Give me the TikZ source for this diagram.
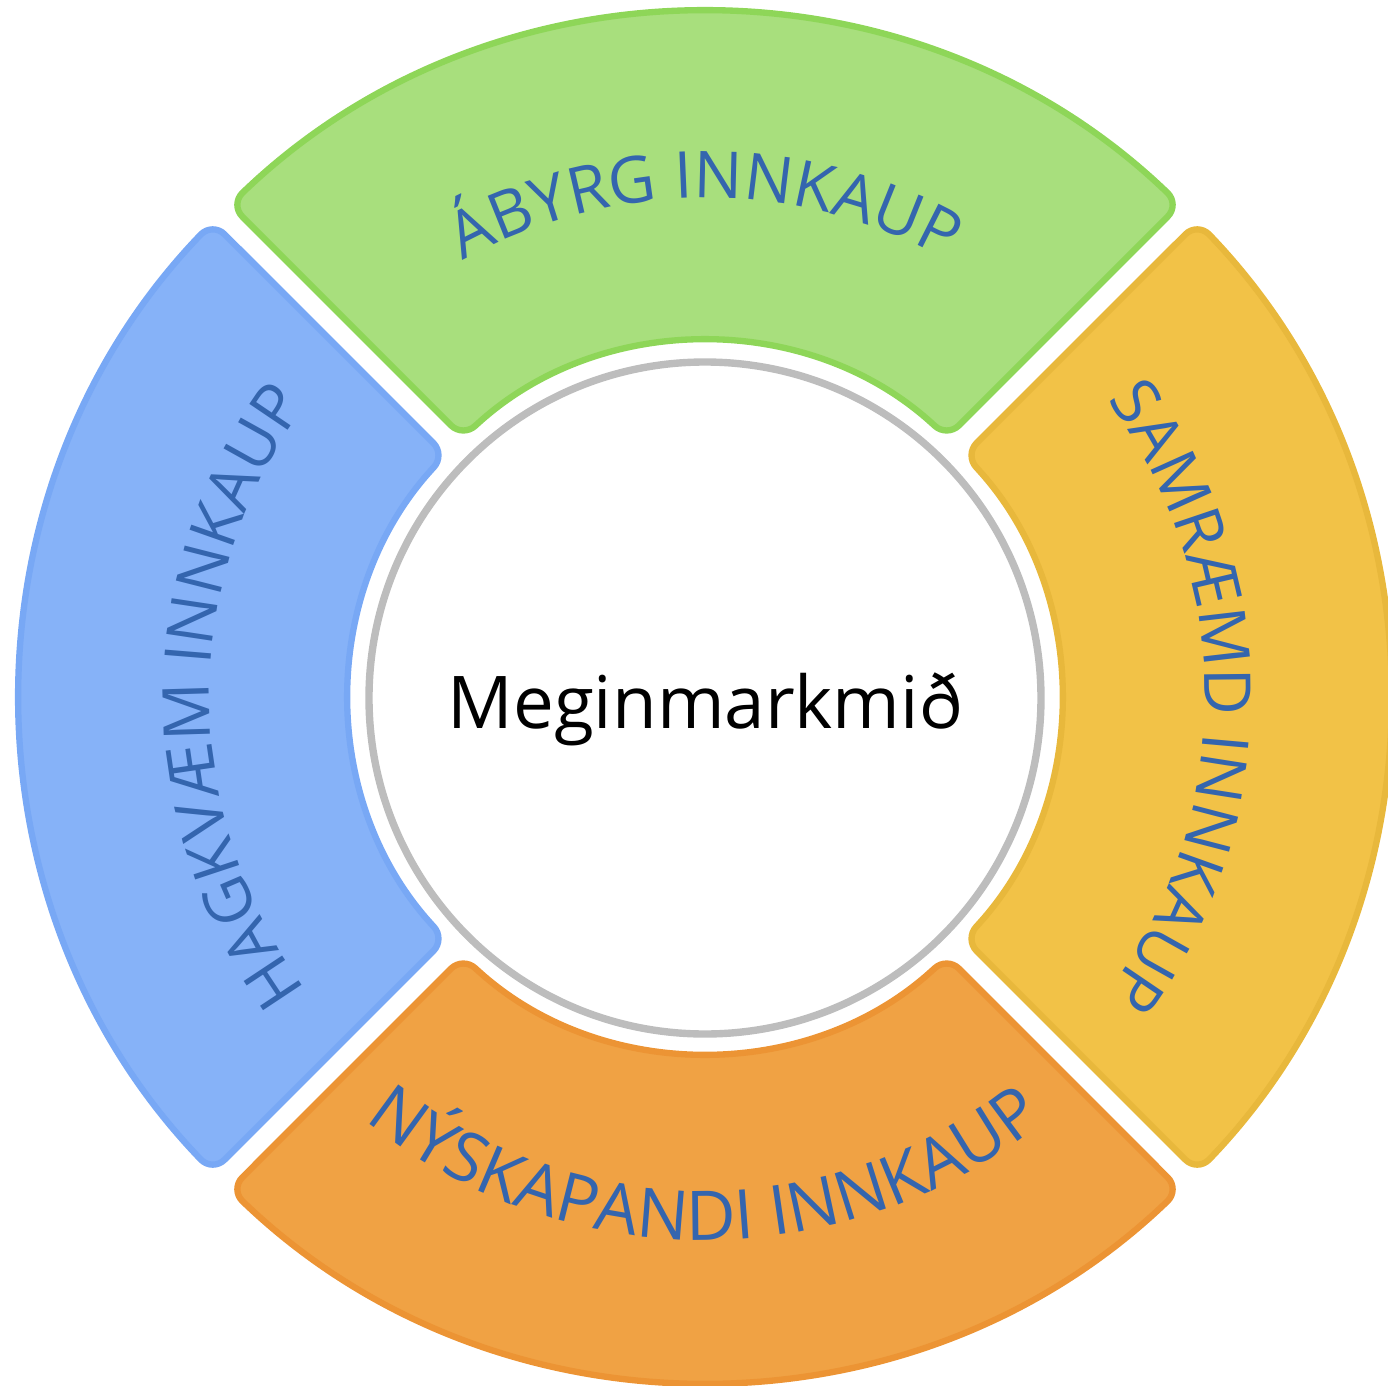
\documentclass[tikz,border=0pt]{standalone}
\usepackage{fontspec}
\setmainfont{Open Sans}
\usetikzlibrary{decorations.text}

\definecolor{greenfill}{HTML}{A8DF7D}
\definecolor{greenline}{HTML}{8ED658}
\definecolor{yellowfill}{HTML}{F2C247}
\definecolor{yellowline}{HTML}{E8B83C}
\definecolor{orangefill}{HTML}{F0A244}
\definecolor{orangeline}{HTML}{EC9434}
\definecolor{bluefill}{HTML}{86B2F8}
\definecolor{blueline}{HTML}{78A8F5}
\definecolor{ringgray}{HTML}{BDBDBD}
\definecolor{labelblue}{HTML}{3465AE}

\newcommand{\arcfont}[1]{\fontsize{#1}{23}\selectfont\color{labelblue}}

\begin{document}
\begin{tikzpicture}[
    part/.style={line width=1.8pt, rounded corners=4.8pt, line join=round},
    arclabel/.style 2 args={decorate, decoration={text along path, text align=center, text={|\arcfont{#1}|#2}}}
  ]
	\useasboundingbox (-7.05,-6.88) rectangle (6.83,6.97);

	% four parts of the ring
	\draw[part, fill=greenfill, draw=greenline] (46.05:6.84) arc[start angle=46.05, end angle=133.95, radius=6.84]
	  -- (132.99:3.55) arc[start angle=132.99, end angle=47.01, radius=3.55] -- cycle;
	\draw[part, fill=yellowfill, draw=yellowline] (-43.95:6.84) arc[start angle=-43.95, end angle=43.95, radius=6.84]
	  -- (42.99:3.55) arc[start angle=42.99, end angle=-42.99, radius=3.55] -- cycle;
	\draw[part, fill=orangefill, draw=orangeline] (226.05:6.84) arc[start angle=226.05, end angle=313.95, radius=6.84]
	  -- (312.99:3.55) arc[start angle=312.99, end angle=227.01, radius=3.55] -- cycle;
	\draw[part, fill=bluefill, draw=blueline] (136.05:6.84) arc[start angle=136.05, end angle=223.95, radius=6.84]
	  -- (222.99:3.55) arc[start angle=222.99, end angle=137.01, radius=3.55] -- cycle;

	% labels on the ring
	\path[arclabel={18.4}{ÁBYRG INNKAUP}] (150:4.99) arc[start angle=150, end angle=30, radius=4.99];
	\path[arclabel={18.4}{SAMRÆMD INNKAUP}] (60:5.0) arc[start angle=60, end angle=-60, radius=5.0];
	\path[arclabel={19.5}{NÝSKAPANDI INNKAUP}] (210:5.43) arc[start angle=210, end angle=330, radius=5.43];
	\path[arclabel={18.4}{HAGKVÆM INNKAUP}] (240:4.95) arc[start angle=240, end angle=120, radius=4.95];

	% middle
	\node[circle, draw=ringgray, line width=2.1pt, fill=white, minimum size=6.72cm, inner sep=0pt] (core) at (0,-0.01) {};
	\node[anchor=base, font=\fontsize{20.7}{25}\selectfont] (goal) at (0,-0.31) {Meginmarkmið};

\end{tikzpicture}
\end{document}
